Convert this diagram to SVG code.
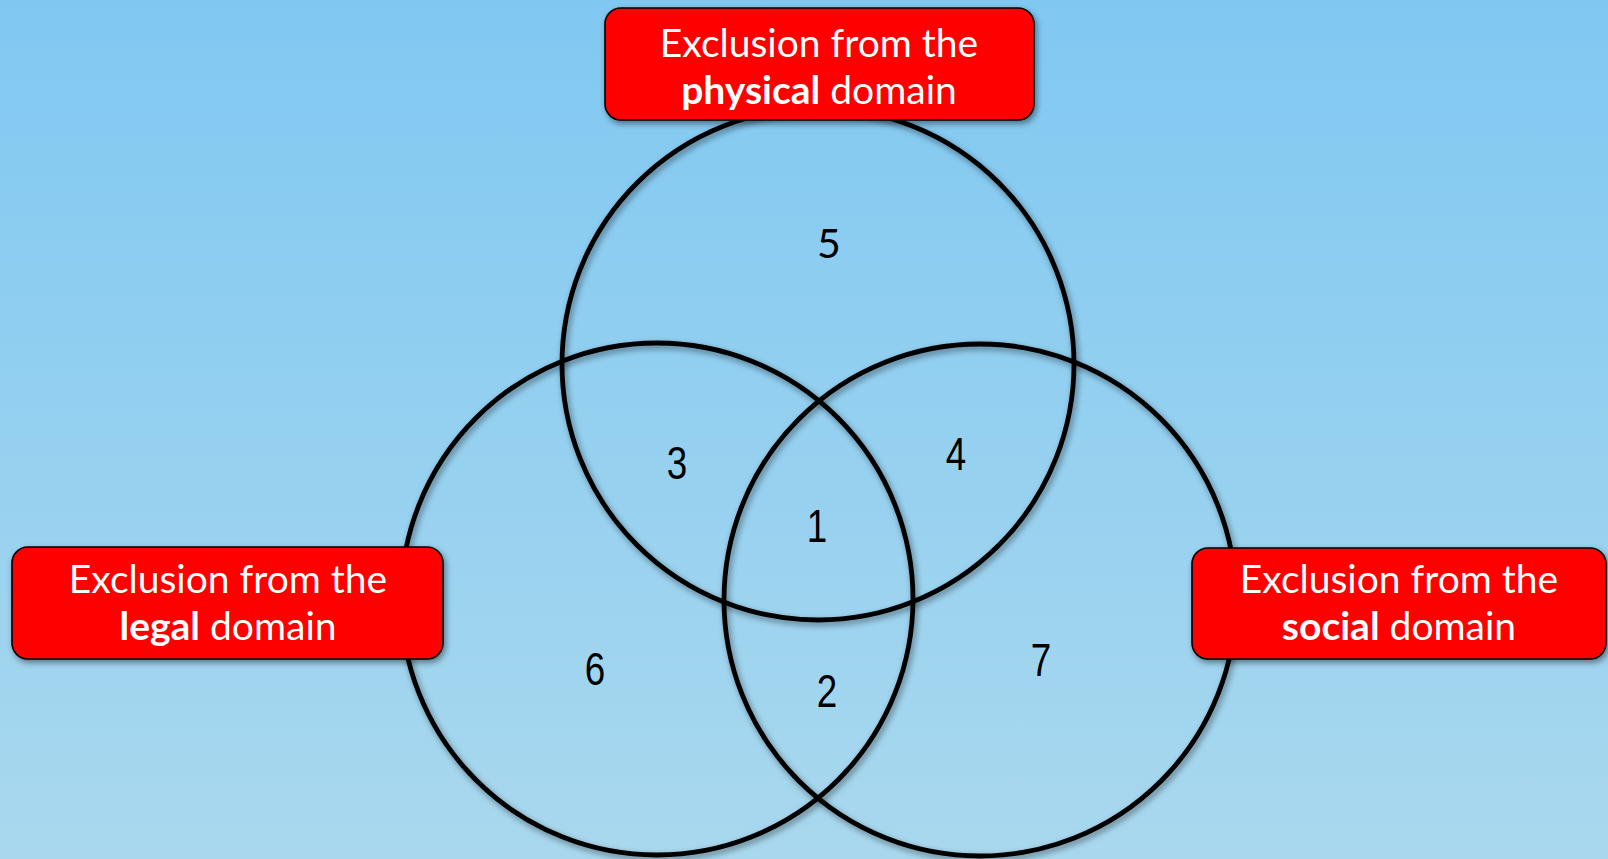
<svg xmlns="http://www.w3.org/2000/svg" width="1608" height="859" viewBox="0 0 1608 859">
<defs>
<linearGradient id="bg" x1="0" y1="0" x2="0" y2="1">
<stop offset="0" stop-color="#80C8F2"/>
<stop offset="1" stop-color="#A9D8EE"/>
</linearGradient>
<filter id="sh" x="-20%" y="-20%" width="140%" height="140%">
<feDropShadow dx="2" dy="3" stdDeviation="3" flood-color="#000" flood-opacity="0.45"/>
</filter>
</defs>
<style>
.c{fill:none;stroke:#000;stroke-width:4.8;filter:url(#sh)}
.box{fill:#FF0000;stroke:#000;stroke-width:1.6;filter:url(#sh)}
.lbl{font-family:Lato,"Open Sans",sans-serif;font-size:39px;fill:#fff;text-anchor:middle}
.b{font-weight:bold}
.n{font-family:"Liberation Sans",Arial,sans-serif;font-size:46px;fill:#000;text-anchor:middle}
.n5{font-family:Lato,"Open Sans",sans-serif;font-size:41px;fill:#000;text-anchor:middle}
</style>
<rect x="0" y="0" width="1608" height="859" fill="url(#bg)"/>
<g id="circles">
<circle id="circle-physical" class="c" cx="818" cy="364" r="256"/>
<circle id="circle-legal" class="c" cx="657" cy="599" r="256"/>
<circle id="circle-social" class="c" cx="980" cy="600" r="256"/>
</g>
<g id="numbers">
<text class="n5" x="829" y="258">5</text>
<text class="n" transform="translate(677,479) scale(0.8,1)">3</text>
<text class="n" transform="translate(956,470) scale(0.8,1)">4</text>
<text class="n" transform="translate(817,542) scale(0.8,1)">1</text>
<text class="n" transform="translate(595,685) scale(0.8,1)">6</text>
<text class="n" transform="translate(827,707) scale(0.8,1)">2</text>
<text class="n" transform="translate(1041,676) scale(0.8,1)">7</text>
</g>
<g id="box-physical">
<rect class="box" x="605" y="8" width="429" height="112" rx="16"/>
<text class="lbl" x="819" y="57">Exclusion from the</text>
<text class="lbl" x="819" y="104"><tspan class="b">physical</tspan> domain</text>
</g>
<g id="box-legal">
<rect class="box" x="12" y="547" width="431" height="112" rx="16"/>
<text class="lbl" x="228" y="593">Exclusion from the</text>
<text class="lbl" x="228" y="640"><tspan class="b">legal</tspan> domain</text>
</g>
<g id="box-social">
<rect class="box" x="1192" y="548" width="414" height="111" rx="16"/>
<text class="lbl" x="1399" y="593">Exclusion from the</text>
<text class="lbl" x="1399" y="640"><tspan class="b">social</tspan> domain</text>
</g>
</svg>
